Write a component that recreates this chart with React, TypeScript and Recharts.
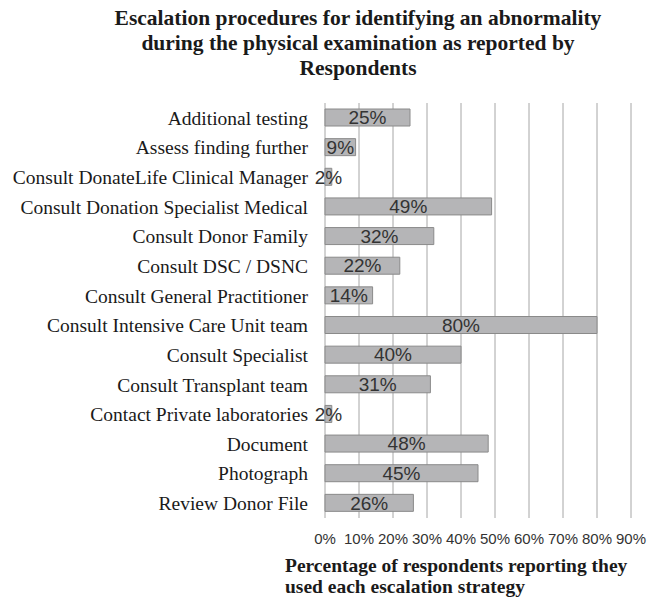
import { BarChart, Bar, XAxis, YAxis, CartesianGrid, LabelList } from "recharts";

const categories = [
  "Additional testing",
  "Assess finding further",
  "Consult DonateLife Clinical Manager",
  "Consult Donation Specialist Medical",
  "Consult Donor Family",
  "Consult DSC / DSNC",
  "Consult General Practitioner",
  "Consult Intensive Care Unit team",
  "Consult Specialist",
  "Consult Transplant team",
  "Contact Private laboratories",
  "Document",
  "Photograph",
  "Review Donor File",
];
const percents = [25, 9, 2, 49, 32, 22, 14, 80, 40, 31, 2, 48, 45, 26];
const xTicks = [0, 10, 20, 30, 40, 50, 60, 70, 80, 90];

const data = categories.map((name, i) => ({ name, value: percents[i] }));

const serif = "'Liberation Serif', 'Times New Roman', serif";
const sans = "'Liberation Sans', Arial, sans-serif";

export default function App() {
  return (
    <div style={{ position: "absolute", left: 0, top: 0, width: 661, height: 598, background: "#fff", overflow: "hidden" }}>
      <div
        style={{
          position: "absolute", left: 58, top: 6, width: 600, textAlign: "center",
          fontFamily: serif, fontWeight: "bold", fontSize: 21.5, lineHeight: "25px", color: "#1a1a1a",
        }}
      >
        Escalation procedures for identifying an abnormality<br />
        during the physical examination as reported by<br />
        Respondents
      </div>
      <BarChart
        width={661}
        height={598}
        data={data}
        layout="vertical"
        margin={{ top: 103, right: 30, bottom: 0, left: 0 }}
      >
        <CartesianGrid horizontal={false} stroke="#a6a6a6" />
        <XAxis
          type="number"
          domain={[0, 90]}
          ticks={xTicks}
          tickFormatter={(v) => `${v}%`}
          axisLine={false}
          tickLine={false}
          tickSize={0}
          tickMargin={15}
          height={80}
          tick={{ fontFamily: sans, fontSize: 15, fill: "#333" }}
          interval={0}
        />
        <YAxis
          type="category"
          dataKey="name"
          width={325}
          axisLine={false}
          tickLine={false}
          tickSize={0}
          tickMargin={17}
          interval={0}
          tick={{ fontFamily: serif, fontSize: 19.5, fill: "#1a1a1a" }}
        />
        <Bar dataKey="value" fill="#b5b5b7" stroke="#8a8a8a" strokeWidth={1} barSize={17} isAnimationActive={false}>
          <LabelList
            dataKey="value"
            position="center"
            formatter={(v: number) => `${v}%`}
            style={{ fontFamily: sans, fontSize: 19, fill: "#333" }}
          />
        </Bar>
      </BarChart>
      <div
        style={{
          position: "absolute", left: 285, top: 555, fontFamily: serif, fontWeight: "bold",
          fontSize: 19.5, lineHeight: "21px", color: "#1a1a1a", whiteSpace: "nowrap",
        }}
      >
        Percentage of respondents reporting they<br />
        used each escalation strategy
      </div>
    </div>
  );
}
